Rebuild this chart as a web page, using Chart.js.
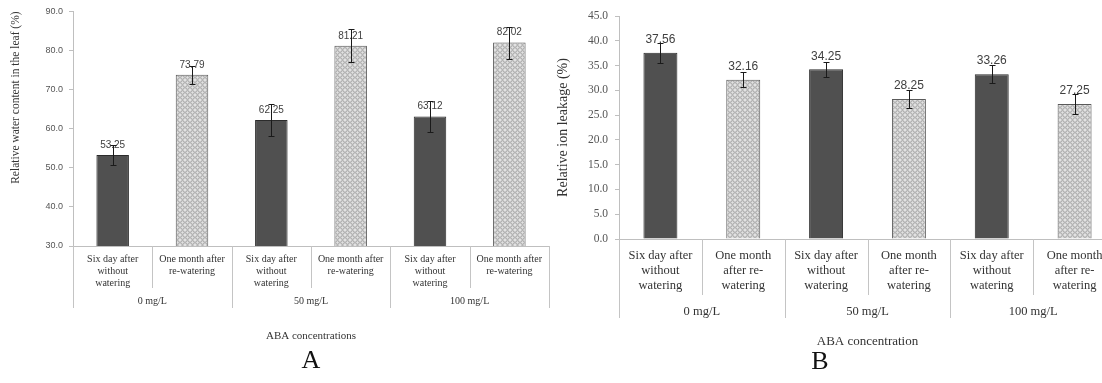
<!DOCTYPE html>
<html>
<head>
<meta charset="utf-8">
<script src="https://cdn.jsdelivr.net/npm/chart.js@4.4.1/dist/chart.umd.min.js"></script>
<style>
  html, body { margin: 0; padding: 0; background: #ffffff; overflow: hidden; }
  body { width: 1102px; height: 383px; position: relative; }
  #wrapA { position: absolute; left: 0; top: 0; width: 552px; height: 383px; }
  #wrapB { position: absolute; left: 540px; top: 0; width: 580px; height: 383px; }
  .panel { position: absolute; font-family: "Liberation Serif", "DejaVu Serif", serif; font-size: 26px; color: #111; transform: translate(-50%, -50%); }
</style>
</head>
<body>
<div id="wrapA"><canvas id="chartA"></canvas></div>
<div id="wrapB"><canvas id="chartB"></canvas></div>
<div class="panel" style="left:311px; top:360px;">A</div>
<div class="panel" style="left:820px; top:361px;">B</div>
<script>
const groups = ["0 mg/L", "50 mg/L", "100 mg/L"]
const labelsA = [
  ["Six day after", "without", "watering"], ["One month after", "re-watering"],
  ["Six day after", "without", "watering"], ["One month after", "re-watering"],
  ["Six day after", "without", "watering"], ["One month after", "re-watering"],
]
const labelsB = [
  ["Six day after", "without", "watering"], ["One month", "after re-", "watering"],
  ["Six day after", "without", "watering"], ["One month", "after re-", "watering"],
  ["Six day after", "without", "watering"], ["One month", "after re-", "watering"],
]
const waterContent = [53.25, 73.79, 62.25, 81.21, 63.12, 82.02]
const waterContentErr = [2.6, 2.3, 4.0, 4.2, 4.0, 4.1]
const ionLeakage = [37.56, 32.16, 34.25, 28.25, 33.26, 27.25]
const ionLeakageErr = [2.0, 1.5, 1.5, 1.8, 1.8, 2.1]
const ticksA = { min: 30, max: 90, step: 10 }
const ticksB = { min: 0, max: 45, step: 5 }

function dotPattern() {
  const c = document.createElement("canvas")
  c.width = 5
  c.height = 5
  const g = c.getContext("2d")
  g.fillStyle = "#e2e2e2"
  g.fillRect(0, 0, 5, 5)
  g.strokeStyle = "#979797"
  g.lineWidth = 0.9
  g.beginPath()
  g.arc(2.5, 2.5, 1.8, 0, Math.PI * 2)
  g.stroke()
  return g.createPattern(c, "repeat")
}
const pattern = dotPattern()
const dark = "#505050"
const fills = [dark, pattern, dark, pattern, dark, pattern]
const borders = ["#2b2b2b", "#5a5a5a", "#2b2b2b", "#5a5a5a", "#2b2b2b", "#5a5a5a"]

// error bars, value labels, group row and separators under the x axis
function decor(opts) {
  return {
    id: "decor",
    afterDatasetsDraw(chart) {
      const { ctx } = chart
      const y = chart.scales.y
      const meta = chart.getDatasetMeta(0)
      const values = chart.data.datasets[0].data
      ctx.save()
      ctx.font = opts.valueFont
      ctx.fillStyle = "#404040"
      ctx.textAlign = "center"
      ctx.textBaseline = "middle"
      meta.data.forEach((bar, i) => {
        ctx.fillText(values[i].toFixed(2), bar.x, bar.y - opts.valueGap)
      })
      ctx.strokeStyle = "#1a1a1a"
      ctx.lineWidth = 1
      meta.data.forEach((bar, i) => {
        const top = Math.round(y.getPixelForValue(values[i] + opts.errors[i])) + 0.5
        const bot = Math.round(y.getPixelForValue(values[i] - opts.errors[i])) + 0.5
        const cx = Math.round(bar.x) + 0.5
        ctx.beginPath()
        ctx.moveTo(cx, top)
        ctx.lineTo(cx, bot)
        ctx.moveTo(cx - 3, top)
        ctx.lineTo(cx + 3, top)
        ctx.moveTo(cx - 3, bot)
        ctx.lineTo(cx + 3, bot)
        ctx.stroke()
      })
      ctx.restore()
    },
    afterDraw(chart) {
      const { ctx, chartArea } = chart
      const x = chart.scales.x
      const n = chart.data.labels.length
      const w = (x.right - x.left) / n
      ctx.save()
      ctx.strokeStyle = "#c4c4c4"
      ctx.lineWidth = 1
      for (let k = 0; k <= n; k++) {
        const px = Math.round(x.left + k * w) + 0.5
        ctx.beginPath()
        ctx.moveTo(px, chartArea.bottom)
        ctx.lineTo(px, k % 2 === 0 ? opts.groupEnd : opts.subEnd)
        ctx.stroke()
      }
      ctx.font = opts.groupFont
      ctx.fillStyle = "#333333"
      ctx.textAlign = "center"
      ctx.textBaseline = "middle"
      groups.forEach((g, i) => {
        ctx.fillText(g, x.left + (2 * i + 1) * w, opts.groupY)
      })
      ctx.restore()
    },
  }
}

function barChart(id, labels, values, range, o) {
  return new Chart(document.getElementById(id), {
    type: "bar",
    data: {
      labels: labels,
      datasets: [
        {
          data: values,
          backgroundColor: fills,
          borderColor: borders,
          borderWidth: 1,
          categoryPercentage: 1,
          barPercentage: 0.41,
        },
      ],
    },
    options: {
      responsive: true,
      maintainAspectRatio: false,
      animation: false,
      devicePixelRatio: 1,
      layout: { padding: { top: o.top, right: o.right, left: 0, bottom: 0 } },
      plugins: { legend: { display: false }, tooltip: { enabled: false } },
      scales: {
        x: {
          grid: { display: false, drawTicks: false },
          border: { display: true, color: "#bfbfbf" },
          ticks: {
            autoSkip: false,
            maxRotation: 0,
            padding: o.tickPad,
            color: "#333333",
            font: { family: "Liberation Serif", size: o.labelSize, lineHeight: 1.2 },
          },
          title: {
            display: true,
            text: o.xTitle,
            color: "#333333",
            font: { family: "Liberation Serif", size: o.xTitleSize },
            padding: { top: 0, bottom: o.xTitlePad },
          },
          afterFit(scale) {
            scale.height = o.xHeight
          },
        },
        y: {
          min: range.min,
          max: range.max,
          grid: { drawOnChartArea: false, drawTicks: true, tickLength: 4, color: "#bfbfbf" },
          border: { display: true, color: "#bfbfbf" },
          ticks: {
            stepSize: range.step,
            padding: o.yTickPad,
            color: "#555555",
            font: o.yTickFont,
            callback: (v) => Number(v).toFixed(1),
          },
          title: {
            display: true,
            text: o.yTitle,
            align: o.yTitleAlign,
            color: "#333333",
            font: { family: "Liberation Serif", size: o.yTitleSize },
            padding: { top: o.yTitlePad, bottom: 0 },
          },
          afterFit(scale) {
            scale.width = o.yWidth
          },
        },
      },
    },
    plugins: [decor(o)],
  })
}

barChart("chartA", labelsA, waterContent, ticksA, {
  top: 10, right: 3, tickPad: 7, labelSize: 10, xTitle: "ABA concentrations", xTitleSize: 11,
  xTitlePad: 40, xHeight: 137, yTickPad: 6, yTickFont: { family: "Liberation Sans", size: 9 },
  yTitle: "Relative water content in the leaf (%)", yTitleAlign: "end", yTitleSize: 11.5,
  yTitlePad: 9, yWidth: 73, errors: waterContentErr, valueFont: "10px 'Liberation Sans'",
  valueGap: 10, groupFont: "10px 'Liberation Serif'", groupY: 301, subEnd: 288, groupEnd: 308,
})

barChart("chartB", labelsB, ionLeakage, ticksB, {
  top: 16, right: 4, tickPad: 9, labelSize: 12.5, xTitle: "ABA concentration", xTitleSize: 13,
  xTitlePad: 34, xHeight: 144, yTickPad: 7, yTickFont: { family: "Liberation Serif", size: 11.5 },
  yTitle: "Relative ion leakage (%)", yTitleAlign: "center", yTitleSize: 14,
  yTitlePad: 15, yWidth: 79, errors: ionLeakageErr, valueFont: "12px 'Liberation Sans'",
  valueGap: 13, groupFont: "12.5px 'Liberation Serif'", groupY: 312, subEnd: 295, groupEnd: 318,
})
</script>
</body>
</html>
